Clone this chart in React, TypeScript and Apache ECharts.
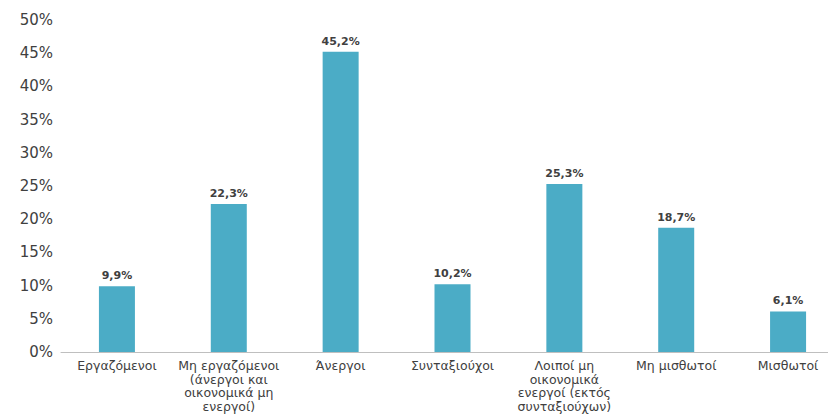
import { useEffect, useRef } from "react";
import * as echarts from "echarts";

const categories = [
  "Εργαζόμενοι",
  "Μη εργαζόμενοι\n(άνεργοι και\nοικονομικά μη\nενεργοί)",
  "Άνεργοι",
  "Συνταξιούχοι",
  "Λοιποί μη\nοικονομικά\nενεργοί (εκτός\nσυνταξιούχων)",
  "Μη μισθωτοί",
  "Μισθωτοί",
];
const values = [9.9, 22.3, 45.2, 10.2, 25.3, 18.7, 6.1];

export default function App() {
  const ref = useRef<HTMLDivElement>(null);

  useEffect(() => {
    if (!ref.current) return;
    const chart = echarts.init(ref.current, null, { renderer: "svg" });
    chart.setOption({
      animation: false,
      textStyle: { fontFamily: "DejaVu Sans" },
      grid: { left: 53, right: 0, top: 12, bottom: 62, outerBoundsMode: "none", containLabel: false },
      xAxis: {
        type: "category",
        data: categories,
        axisTick: { show: false },
        axisLine: { lineStyle: { color: "#bfbfbf" } },
        axisLabel: { color: "#404040", fontSize: 12.5, lineHeight: 13.5, interval: 0, margin: 7 },
      },
      yAxis: {
        type: "value",
        min: 0,
        max: 50,
        interval: 5,
        splitLine: { show: false },
        axisLabel: { color: "#404040", fontSize: 15, formatter: "{value}%", margin: 8 },
      },
      series: [
        {
          type: "bar",
          data: values,
          barWidth: 36,
          itemStyle: { color: "#4bacc6" },
          label: {
            show: true,
            position: "top",
            color: "#404040",
            fontSize: 11,
            fontWeight: "bold",
            formatter: (p: any) => String(p.value).replace(".", ",") + "%",
          },
        },
      ],
    });
    return () => chart.dispose();
  }, []);

  return <div ref={ref} style={{ width: 836, height: 406 }} />;
}
